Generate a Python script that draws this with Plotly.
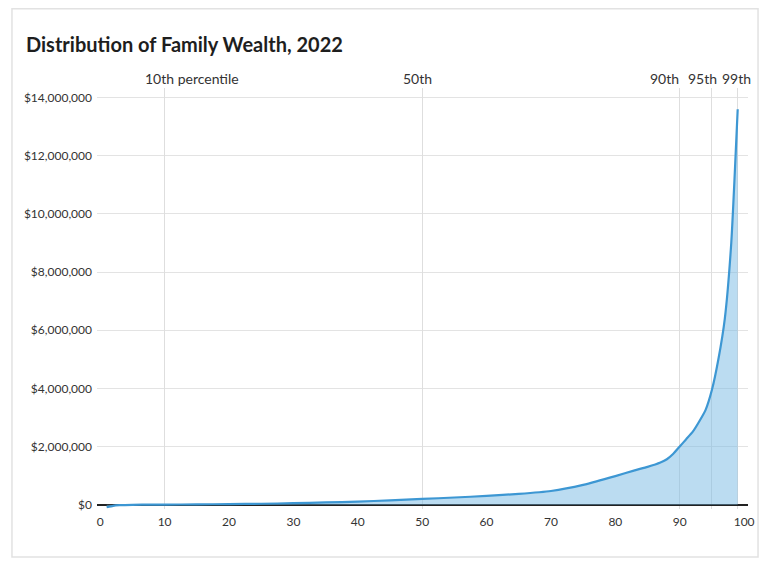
import plotly.graph_objects as go

# percentile of families and net worth at that percentile (dollars)
percentiles = [1, 2, 3, 5, 8, 10, 15, 20, 25, 30, 35, 40, 45, 50, 55, 60, 65, 70,
               75, 80, 83, 85, 87, 88, 89, 90, 91, 92, 93, 94, 95, 96, 97, 98, 99]
wealth = [-90000, -40000, -20000, -5000, 0, 1000, 8000, 18000, 30000, 50000,
          75000, 105000, 145000, 195000, 245000, 300000, 370000, 470000,
          680000, 980000, 1180000, 1300000, 1450000, 1560000, 1750000, 2000000,
          2250000, 2500000, 2850000, 3250000, 3950000, 5000000, 6400000,
          9000000, 13600000]

marker_pcts = [10, 50, 90, 95, 99]
marker_labels = ["10th percentile", "50th", "90th", "95th", "99th"]
marker_label_pos = [14.3, 49.3, 87.6, 93.5, 98.8]

x_ticks = list(range(0, 101, 10))
y_ticks = list(range(0, 14000001, 2000000))

FONT = "Lato"

# the page body adds an 8px margin, so the figure is 8px smaller than the window
W, H = 760, 555

fig = go.Figure()

fig.add_trace(go.Scatter(
    x=percentiles, y=wealth,
    mode="lines",
    line=dict(color="#3d97d3", width=2.2, shape="spline", smoothing=0.5),
    fill="tozeroy",
    fillcolor="rgba(120,185,228,0.5)",
    hoverinfo="skip",
    showlegend=False,
))
# dummy trace so the top axis (percentile markers) is drawn
fig.add_trace(go.Scatter(x=[None], y=[None], xaxis="x2", showlegend=False))

for lab, xp in zip(marker_labels, marker_label_pos):
    fig.add_annotation(
        x=xp, y=1.0, xref="x", yref="paper", yanchor="middle", yshift=10,
        text=lab, showarrow=False,
        font=dict(family=FONT, size=14, color="#333"),
    )

# card border
fig.add_shape(
    type="rect", xref="paper", yref="paper",
    x0=-0.1306, x1=1.0154, y0=-0.114, y1=1.188,
    line=dict(color="#e2e2e2", width=1.5), fillcolor="rgba(0,0,0,0)",
    layer="below",
)

fig.update_layout(
    width=W, height=H,
    margin=dict(l=89, r=20, t=80, b=54),
    paper_bgcolor="white", plot_bgcolor="white",
    title=dict(text="<b>Distribution of Family Wealth, 2022</b>",
               x=18 / W, xanchor="left", y=1 - 37 / H, yanchor="middle",
               font=dict(family=FONT, size=20, color="#1e1e1e")),
    xaxis=dict(
        range=[-0.5, 100.6], tickvals=x_ticks, showgrid=False,
        zeroline=False, showline=False, ticks="", ticklabelstandoff=4,
        tickfont=dict(family=FONT, size=12, color="#333"),
    ),
    xaxis2=dict(
        overlaying="x", side="top", matches="x", range=[-0.5, 100.6],
        tickvals=marker_pcts, showticklabels=False, showgrid=True,
        gridcolor="#dedede", gridwidth=1, zeroline=False, ticks="",
    ),
    yaxis=dict(
        range=[-150000, 14330000], tickvals=y_ticks,
        tickformat="$,d",
        showgrid=True, gridcolor="#e3e3e3", gridwidth=1,
        zeroline=True, zerolinecolor="#222", zerolinewidth=1.8,
        ticks="", ticklabelstandoff=4,
        tickfont=dict(family=FONT, size=12, color="#333"),
    ),
)

fig.write_html("out.html")
